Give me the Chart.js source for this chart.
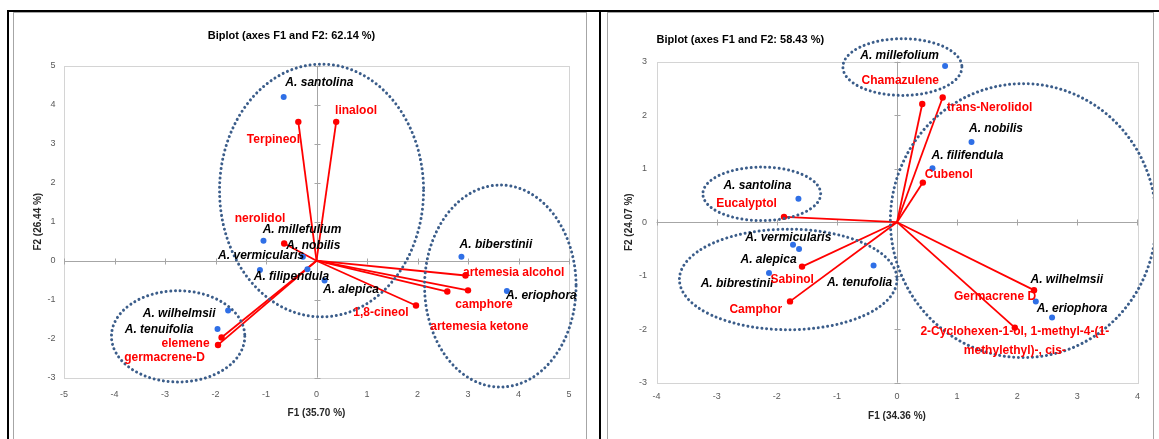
<!DOCTYPE html>
<html>
<head>
<meta charset="utf-8">
<script src="https://cdn.jsdelivr.net/npm/chart.js@4.4.1/dist/chart.umd.min.js"></script>
<style>
  html,body{margin:0;padding:0;background:#fff;}
  #stage{position:relative;width:1159px;height:439px;overflow:hidden;background:#fff;}
  .blk{position:absolute;background:#000;}
  .panel{position:absolute;border:1px solid #a6a6a6;box-sizing:border-box;}
  canvas{position:absolute;}
</style>
</head>
<body>
<div id="stage">
  <div class="blk" style="left:7px;top:10px;width:1152px;height:2px"></div>
  <div class="blk" style="left:7px;top:10px;width:2px;height:429px"></div>
  <div class="blk" style="left:599px;top:10px;width:2px;height:429px"></div>
  <div class="panel" style="left:13px;top:12px;width:574px;height:440px"></div>
  <div class="panel" style="left:607px;top:12px;width:547px;height:440px"></div>
  <canvas id="left" width="571" height="426" style="left:14px;top:13px;width:571px;height:426px"></canvas>
  <canvas id="right" width="545" height="426" style="left:608px;top:13px;width:545px;height:426px"></canvas>
</div>
<script>
// ---------------- DATA: left biplot ----------------
const leftTitle = 'Biplot (axes F1 and F2: 62.14 %)';
const leftXTitle = 'F1 (35.70 %)';
const leftYTitle = 'F2 (26.44 %)';
const leftXTicks = [-5, -4, -3, -2, -1, 0, 1, 2, 3, 4, 5];
const leftYTicks = [-3, -2, -1, 0, 1, 2, 3, 4, 5];
const leftSpecies = ['A. santolina', 'A. millefulium', 'A. nobilis', 'A. vermicularis', 'A. filipendula', 'A. alepica', 'A. biberstinii', 'A. eriophora', 'A. wilhelmsii', 'A. tenuifolia'];
const leftSpeciesF1 = [-0.65, -1.05, -0.27, -1.12, -0.18, 0.16, 2.87, 3.77, -1.75, -1.96];
const leftSpeciesF2 = [4.20, 0.51, 0.10, -0.24, -0.22, -0.51, 0.10, -0.78, -1.28, -1.75];
const leftVariables = ['linalool', 'Terpineol', 'nerolidol', 'artemesia alcohol', 'camphore', 'artemesia ketone', '1,8-cineol', 'elemene', 'germacrene-D'];
const leftVariablesF1 = [0.39, -0.36, -0.64, 2.95, 3.00, 2.59, 1.97, -1.88, -1.95];
const leftVariablesF2 = [3.56, 3.56, 0.44, -0.38, -0.76, -0.79, -1.15, -1.97, -2.16];
// group ellipses (data units): centre F1, centre F2, radius F1, radius F2
const leftGroupCx = [0.10, 3.64, -2.74];
const leftGroupCy = [1.80, -0.65, -1.94];
const leftGroupRx = [2.02, 1.50, 1.32];
const leftGroupRy = [3.24, 2.59, 1.17];

// ---------------- DATA: right biplot ----------------
const rightTitle = 'Biplot (axes F1 and F2: 58.43 %)';
const rightXTitle = 'F1 (34.36 %)';
const rightYTitle = 'F2 (24.07 %)';
const rightXTicks = [-4, -3, -2, -1, 0, 1, 2, 3, 4];
const rightYTicks = [-3, -2, -1, 0, 1, 2, 3];
const rightSpecies = ['A. millefolium', 'A. nobilis', 'A. filifendula', 'A. santolina', 'A. vermicularis', 'A. alepica', 'A. bibrestinii', 'A. tenufolia', 'A. wilhelmsii', 'A. eriophora'];
const rightSpeciesF1 = [0.80, 1.24, 0.59, -1.64, -1.73, -1.63, -2.13, -0.39, 2.31, 2.58];
const rightSpeciesF2 = [2.92, 1.50, 1.01, 0.44, -0.42, -0.50, -0.95, -0.81, -1.48, -1.78];
const rightVariables = ['Chamazulene', 'trans-Nerolidol', 'Cubenol', 'Eucalyptol', 'Sabinol', 'Camphor', 'Germacrene D', '2-Cyclohexen-1-ol, 1-methyl-4-(1-\nmethylethyl)-, cis-'];
const rightVariablesF1 = [0.42, 0.76, 0.43, -1.88, -1.58, -1.78, 2.28, 1.96];
const rightVariablesF2 = [2.21, 2.33, 0.74, 0.10, -0.83, -1.48, -1.27, -1.97];
const rightGroupCx = [0.09, -2.25, -1.81, 2.10];
const rightGroupCy = [2.90, 0.53, -1.07, 0.03];
const rightGroupRx = [0.99, 0.98, 1.81, 2.21];
const rightGroupRy = [0.53, 0.50, 0.94, 2.56];

// ---------------- STYLE (label offsets in px, relative to marker) ----------------
const leftSpeciesOffsets = [[35.7,-14.4],[38.5,-10.7],[10.5,-10.7],[1.2,-14],[-16,7.4],[26.4,9.3],[34.5,-12.4],[34.5,5],[-49,2.6],[-58.4,1]];
const leftVariableOffsets = [[19.9,-11],[-24.9,18],[-24.2,-24.7],[48.2,-3],[16,14.7],[32,35],[-35,7],[-36,6],[-53.5,12.3]];
const rightSpeciesOffsets = [[-45.5,-10.7],[24.5,-13.3],[35,-12.7],[-41,-12.7],[-4.7,-7.3],[-30.5,10.7],[-32,11],[-14,17],[31,-21.4],[20,-8.7]];
const rightVariableOffsets = [[-22,-23],[47,10.4],[26,-7.7],[-37.4,-12.7],[-9.8,12.6],[-34.3,8.6],[-39,6.3],[0,4]];

const FONT = "'Liberation Sans Narrow', 'Arial Narrow', 'Liberation Sans', sans-serif";
const BLUE = '#2f6fe6';
const RED = '#ff0000';
const DOTS = '#3b5d8a';

const plotDecor = {
  id: 'plotDecor',
  beforeDatasetsDraw(chart, args, opts) {
    const {ctx, chartArea: a, scales: {x, y}} = chart;
    ctx.save();
    ctx.lineWidth = 1;
    ctx.strokeStyle = '#d4d4d4';
    ctx.strokeRect(Math.round(a.left) + 0.5, Math.round(a.top) + 0.5, Math.round(a.right - a.left), Math.round(a.bottom - a.top));
    const x0 = Math.round(x.getPixelForValue(0)) + 0.5;
    const y0 = Math.round(y.getPixelForValue(0)) + 0.5;
    ctx.strokeStyle = '#a6a6a6';
    ctx.beginPath();
    ctx.moveTo(x0, a.top); ctx.lineTo(x0, a.bottom);
    ctx.moveTo(a.left, y0); ctx.lineTo(a.right, y0);
    opts.xTicks.forEach(v => { const p = Math.round(x.getPixelForValue(v)) + 0.5; ctx.moveTo(p, y0 - 3); ctx.lineTo(p, y0 + 3); });
    opts.yTicks.forEach(v => { const p = Math.round(y.getPixelForValue(v)) + 0.5; ctx.moveTo(x0 - 3, p); ctx.lineTo(x0 + 3, p); });
    ctx.stroke();
    ctx.restore();
  },
  afterDatasetsDraw(chart, args, opts) {
    const {ctx, scales: {x, y}} = chart;
    ctx.save();
    // dotted group ellipses
    ctx.strokeStyle = DOTS;
    ctx.lineWidth = 3;
    ctx.lineCap = 'round';
    ctx.setLineDash([0.01, 4.7]);
    opts.groups.cx.forEach((cx, i) => {
      const px = x.getPixelForValue(cx), py = y.getPixelForValue(opts.groups.cy[i]);
      const rx = Math.abs(x.getPixelForValue(cx + opts.groups.rx[i]) - px);
      const ry = Math.abs(y.getPixelForValue(opts.groups.cy[i] + opts.groups.ry[i]) - py);
      ctx.beginPath();
      ctx.ellipse(px, py, rx, ry, 0, 0, Math.PI * 2);
      ctx.stroke();
    });
    ctx.setLineDash([]);
    // labels
    ctx.textAlign = 'center';
    ctx.textBaseline = 'middle';
    opts.labels.forEach(set => {
      const meta = chart.getDatasetMeta(set.dataset);
      ctx.font = set.font;
      ctx.fillStyle = set.color;
      set.texts.forEach((t, i) => {
        const el = set.endpoint ? chart.getDatasetMeta(set.dataset + i).data[1] : meta.data[i];
        const lines = t.split('\n');
        lines.forEach((ln, k) => {
          ctx.fillText(ln, el.x + set.offsets[i][0], el.y + set.offsets[i][1] + k * 19.3);
        });
      });
    });
    ctx.restore();
  }
};

function buildChart(id, d) {
  const datasets = [{
    type: 'scatter',
    data: d.sF1.map((v, i) => ({x: v, y: d.sF2[i]})),
    backgroundColor: BLUE, borderColor: BLUE,
    pointRadius: 3, pointBorderWidth: 0, order: 0
  }];
  d.vF1.forEach((v, i) => {
    datasets.push({
      type: 'line',
      data: [{x: 0, y: 0}, {x: v, y: d.vF2[i]}],
      borderColor: RED, backgroundColor: RED, borderWidth: 1.8,
      pointRadius: c => c.dataIndex === 0 ? 0 : 3.2,
      pointBorderWidth: 0, fill: false, tension: 0, order: 1
    });
  });
  return new Chart(document.getElementById(id), {
    type: 'scatter',
    data: {datasets},
    options: {
      responsive: false, animation: false, events: [],
      layout: {padding: {left: 0, right: d.padRight, top: 0, bottom: 0}},
      plugins: {
        legend: {display: false}, tooltip: {enabled: false},
        title: {
          display: true, text: d.title, color: '#000',
          font: {family: FONT, size: 11, weight: 'bold', lineHeight: 1.2},
          padding: {top: d.titlePadTop, bottom: d.titlePadBottom},
          align: d.titleAlign, fullSize: d.titleFull
        },
        plotDecor: {
          xTicks: d.xTicks, yTicks: d.yTicks,
          groups: d.groups,
          labels: [
            {dataset: 0, texts: d.sNames, offsets: d.sOff, color: '#000', font: 'italic bold 12px ' + FONT, endpoint: false},
            {dataset: 1, texts: d.vNames, offsets: d.vOff, color: RED, font: 'bold 12px ' + FONT, endpoint: true}
          ]
        }
      },
      scales: {
        x: {
          type: 'linear', min: d.xTicks[0], max: d.xTicks[d.xTicks.length - 1],
          afterBuildTicks: s => { s.ticks = d.xTicks.map(v => ({value: v})); },
          afterFit: s => { s.height = d.xHeight; },
          grid: {display: false, drawTicks: false}, border: {display: false},
          ticks: {color: '#595959', padding: d.xTickPad, font: {family: FONT, size: 9}},
          title: {display: true, text: d.xTitle, color: '#262626', font: {family: FONT, size: 10, weight: 'bold', lineHeight: 1.2}, padding: {top: 0, bottom: d.xTitlePad}}
        },
        y: {
          type: 'linear', min: d.yTicks[0], max: d.yTicks[d.yTicks.length - 1],
          afterBuildTicks: s => { s.ticks = d.yTicks.map(v => ({value: v})); },
          afterFit: s => { s.width = d.yWidth; },
          grid: {display: false, drawTicks: false}, border: {display: false},
          ticks: {color: '#595959', padding: d.yTickPad, font: {family: FONT, size: 9}},
          title: {display: true, text: d.yTitle, color: '#262626', font: {family: FONT, size: 10, weight: 'bold', lineHeight: 1.2}, padding: {top: d.yTitlePad, bottom: 0}}
        }
      }
    },
    plugins: [plotDecor]
  });
}

buildChart('left', {
  title: leftTitle, xTitle: leftXTitle, yTitle: leftYTitle,
  xTicks: leftXTicks, yTicks: leftYTicks,
  sNames: leftSpecies, sF1: leftSpeciesF1, sF2: leftSpeciesF2, sOff: leftSpeciesOffsets,
  vNames: leftVariables, vF1: leftVariablesF1, vF2: leftVariablesF2, vOff: leftVariableOffsets,
  groups: {cx: leftGroupCx, cy: leftGroupCy, rx: leftGroupRx, ry: leftGroupRy},
  padRight: 16, titlePadTop: 16.4, titlePadBottom: 23.1, titleAlign: 'center', titleFull: true,
  xHeight: 61.3, yWidth: 50, xTickPad: 11.4, yTickPad: 8.5, xTitlePad: 20, yTitlePad: 18
});
buildChart('right', {
  title: rightTitle, xTitle: rightXTitle, yTitle: rightYTitle,
  xTicks: rightXTicks, yTicks: rightYTicks,
  sNames: rightSpecies, sF1: rightSpeciesF1, sF2: rightSpeciesF2, sOff: rightSpeciesOffsets,
  vNames: rightVariables, vF1: rightVariablesF1, vF2: rightVariablesF2, vOff: rightVariableOffsets,
  groups: {cx: rightGroupCx, cy: rightGroupCy, rx: rightGroupRx, ry: rightGroupRy},
  padRight: 15.6, titlePadTop: 20.4, titlePadBottom: 15.1, titleAlign: 'start', titleFull: false,
  xHeight: 56.3, yWidth: 48.6, xTickPad: 8, yTickPad: 9.6, xTitlePad: 16.3, yTitlePad: 15
});
</script>
</body>
</html>
